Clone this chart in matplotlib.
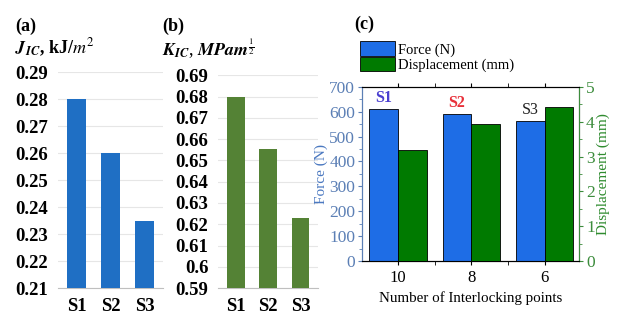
import matplotlib.pyplot as plt
import numpy as np
from matplotlib.patches import Patch

plt.rcParams['font.family'] = ['Liberation Serif', 'DejaVu Serif']
plt.rcParams['mathtext.fontset'] = 'stix'

# data
samples = ['S1', 'S2', 'S3']
jic = [0.280, 0.260, 0.235]
kic = [0.680, 0.6555, 0.623]
points = ['10', '8', '6']
force = [612, 590, 562]
disp = [3.18, 3.92, 4.43]
s_colors = ['#4a3fd0', '#e8303a', '#222222']

fig = plt.figure(figsize=(6.18, 3.23), dpi=100)

def excel_panel(ax, vals, lo, hi, color, ticks, fmt):
    x = np.arange(len(vals))
    ax.bar(x, vals, width=0.55, color=color, zorder=3)
    ax.set_ylim(lo, hi)
    ax.set_xlim(-0.55, 2.55)
    ax.set_yticks(ticks)
    ax.set_yticklabels([fmt(t) for t in ticks], fontsize=13.5, fontweight='bold')
    ax.set_xticks(x)
    ax.set_xticklabels(samples, fontsize=13.5, fontweight='bold')
    ax.grid(axis='y', color='#e6e6e6', lw=0.8, zorder=0)
    for s in ['top', 'right', 'left']:
        ax.spines[s].set_visible(False)
    ax.spines['bottom'].set_color('#bfbfbf')
    ax.tick_params(length=0, pad=7)

# (a)
ax1 = fig.add_axes([0.094, 0.108, 0.170, 0.669])
t1 = np.round(np.arange(0.21, 0.2901, 0.01), 2)
excel_panel(ax1, jic, 0.21, 0.29, '#1f6fc4', t1, lambda t: f'{t:.2f}')
fig.text(0.024, 0.905, '(a)', fontsize=13, fontweight='bold')
fig.text(0.024, 0.835, r'$\mathbfit{J}_{\mathbfit{IC}}$, kJ/$\mathit{m}^2$', fontsize=13, fontweight='bold')

# (b)
ax2 = fig.add_axes([0.353, 0.108, 0.162, 0.659])
t2 = np.round(np.arange(0.59, 0.6901, 0.01), 2)
excel_panel(ax2, kic, 0.59, 0.69, '#548235', t2, lambda t: f'{t:g}')
fig.text(0.262, 0.905, '(b)', fontsize=13, fontweight='bold')
fig.text(0.262, 0.825, r'$\mathbfit{K}_{\mathbfit{IC}}$, $\mathbfit{MPam}^{\frac{1}{2}}$', fontsize=13)

# (c)
ax3 = fig.add_axes([0.586, 0.192, 0.351, 0.539])
x = np.arange(len(points))
w = 0.39
ax3.bar(x - w / 2, force, width=w, color='#1e6de6', edgecolor='black', lw=0.6, zorder=3)
ax3.set_ylim(0, 700)
ax3.set_xlim(-0.49, 2.47)
ax3.set_yticks(range(0, 701, 100))
ax3.set_yticks(range(50, 700, 100), minor=True)
ax3.set_xticks(x)
ax3.set_xticklabels(points)
ax3.set_xticks([0.5, 1.5], minor=True)
ax3.tick_params(axis='y', colors='#5b7fb5', labelsize=12.5, length=3, pad=2)
ax3.tick_params(axis='y', which='minor', colors='#5b7fb5', length=2)
ax3.tick_params(axis='x', labelsize=12, length=3, top=True, which='both')
ax3.spines['left'].set_color('#5b7fb5')
ax3.set_ylabel('Force (N)', color='#4a78c0', fontsize=11, labelpad=1)
ax3.set_xlabel('Number of Interlocking points', fontsize=10.8)
for i, (f, c) in enumerate(zip(force, s_colors)):
    ax3.text(i - w / 2, f + 12, samples[i], color=c, fontsize=11.5,
             fontweight='bold' if i < 2 else 'normal', ha='center', va='bottom')

ax4 = ax3.twinx()
ax4.bar(x + w / 2, disp, width=w, color='#007a00', edgecolor='black', lw=0.6, zorder=3)
ax4.set_ylim(0, 5)
ax4.set_yticks(range(0, 6))
ax4.set_yticks(np.arange(0.5, 5, 1), minor=True)
ax4.tick_params(axis='y', colors='#3c8c3c', labelsize=12.5, length=3, pad=2)
ax4.tick_params(axis='y', which='minor', colors='#3c8c3c', length=2)
ax4.spines['right'].set_color('#3c8c3c')
ax4.spines['left'].set_color('#5b7fb5')
ax4.set_ylabel('Displacement (mm)', color='#2e8b2e', fontsize=11, labelpad=1)

fig.text(0.574, 0.91, '(c)', fontsize=13, fontweight='bold')
handles = [Patch(facecolor='#1e6de6', edgecolor='black', lw=0.6, label='Force (N)'),
           Patch(facecolor='#007a00', edgecolor='black', lw=0.6, label='Displacement (mm)')]
fig.legend(handles=handles, loc='upper left', bbox_to_anchor=(0.582, 0.872),
           frameon=False, fontsize=10.5, handlelength=2.4, handleheight=1.15,
           handletextpad=0.2, labelspacing=0.0, borderpad=0, borderaxespad=0)

fig.savefig('out.png', dpi=100)
